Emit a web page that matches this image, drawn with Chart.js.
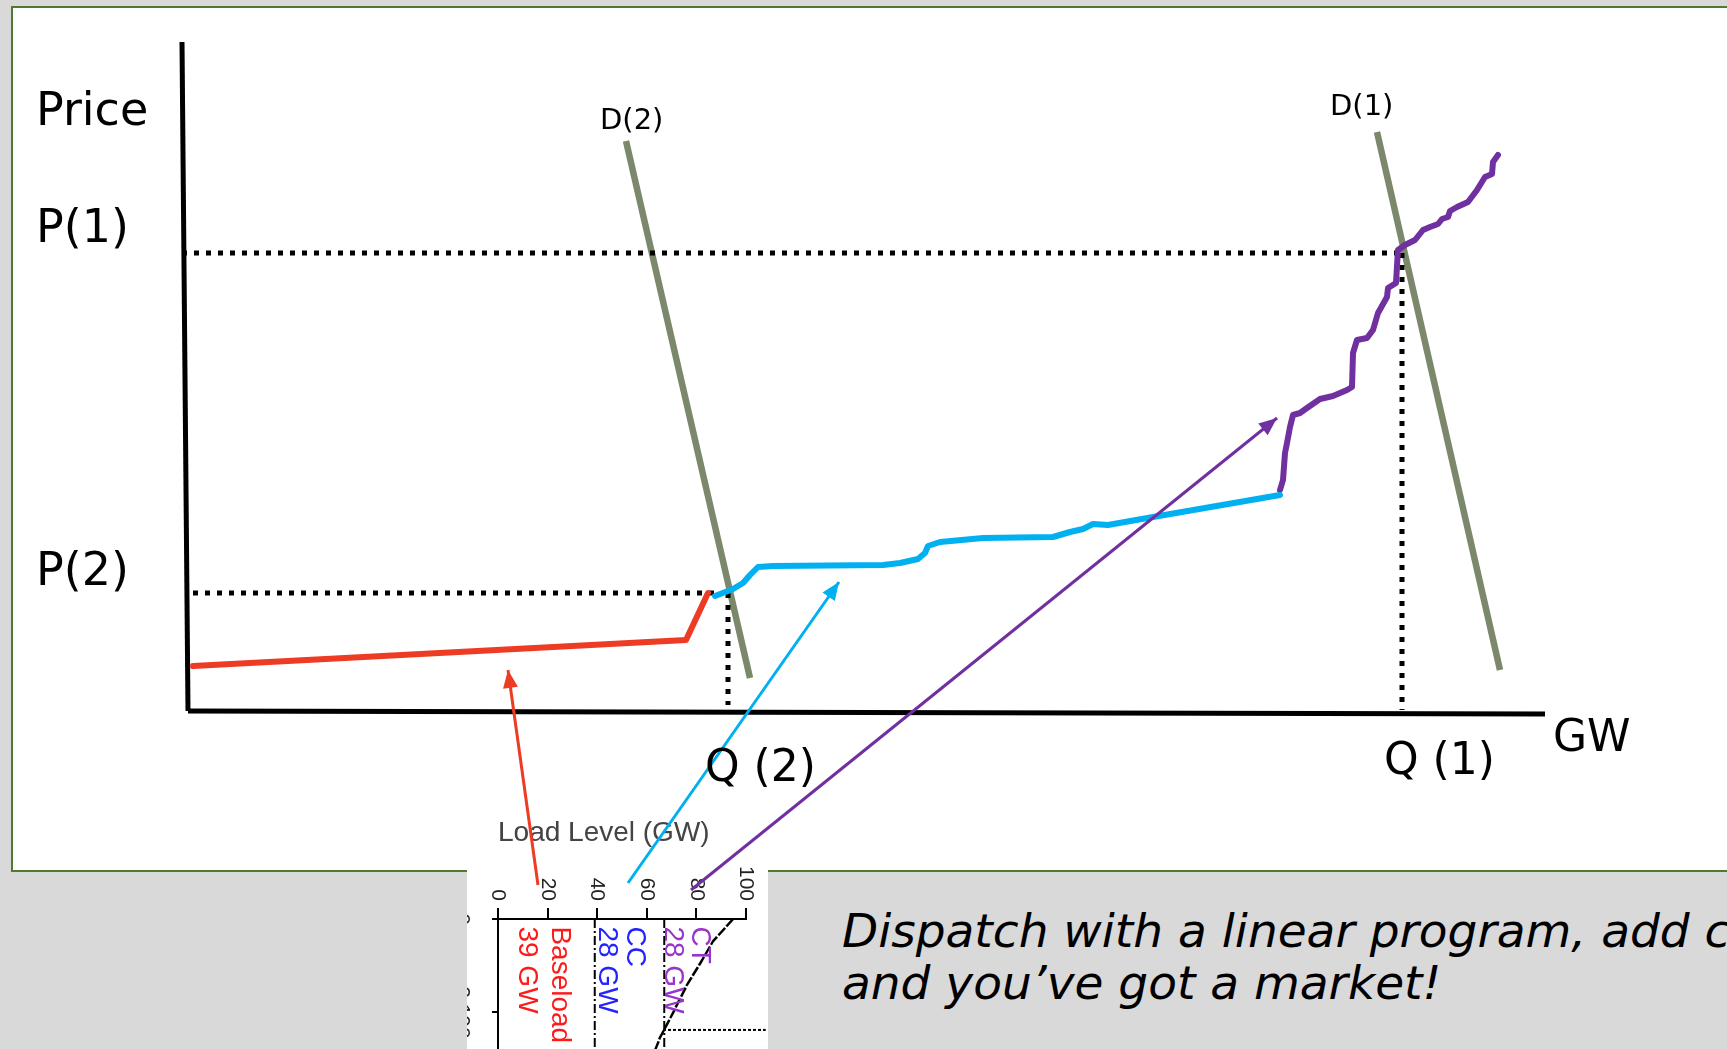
<!DOCTYPE html>
<html>
<head>
<meta charset="utf-8">
<title>Dispatch supply curve</title>
<script src="https://cdn.jsdelivr.net/npm/chart.js@4.4.1/dist/chart.umd.min.js"></script>
<style>
  html, body { margin: 0; padding: 0; }
  body { width: 1727px; height: 1049px; overflow: hidden; background: #d9d9d9; position: relative; }
  #slide-box { position: absolute; left: 11px; top: 6px; width: 1760px; height: 862px; background: #fff; border: 2px solid #4f7a30; }
  #inset-clip { position: absolute; left: 467px; top: 807px; width: 301px; height: 242px; overflow: hidden; background: #fff; }
  #inset-rot { position: absolute; left: 0; top: 0; width: 530px; height: 330px; transform-origin: 0 0; transform: translate(301px, 0) rotate(90deg); filter: blur(0.4px); }
  #caption { position: absolute; left: 842px; top: 905px; font: italic 47px "DejaVu Sans", sans-serif; line-height: 52px; white-space: nowrap; color: #000; }
  #main { position: absolute; left: 0; top: 0; }
</style>
</head>
<body>
<div id="slide-box"></div>
<div id="caption">Dispatch with a linear program, add c<br>and you’ve got a market!</div>
<div id="inset-clip"><div id="inset-rot"><canvas id="inset" width="530" height="330"></canvas></div></div>
<canvas id="main" width="1727" height="1049"></canvas>
<script>
// ---- main sketch: x = quantity (GW), y = price, origin at the axes corner ----
const baseloadX = [0.5, 49.8, 52.0];
const baseloadY = [4.5, 7.1, 11.8];

const ccX = [52.7, 54.5, 55.5, 56.2, 57.0, 58.5, 69.5, 71.2, 73.0, 73.7, 74.0, 75.2, 79.5, 86.5, 88.2, 89.5, 90.5, 92.0, 96.5, 109.2];
const ccY = [11.5, 12.2, 12.8, 13.6, 14.4, 14.5, 14.6, 14.8, 15.2, 15.8, 16.5, 16.9, 17.3, 17.4, 17.9, 18.2, 18.7, 18.6, 19.4, 21.6];

const ctX = [109.2, 109.5, 109.7, 109.9, 110.2, 110.5, 111.2, 111.9, 113.2, 114.5, 115.9, 116.4, 116.5, 116.9, 117.9, 118.5, 119.0, 119.9, 120.0, 120.8, 120.9, 121.0, 121.7, 122.7, 123.5, 124.2, 125.0, 125.4, 126.0, 126.2, 126.9, 128.0, 128.9, 129.7, 130.4, 130.5, 131.0];
const ctY = [22.1, 23.1, 25.8, 26.8, 28.4, 29.6, 29.8, 30.3, 31.2, 31.5, 32.1, 32.4, 35.8, 37.1, 37.3, 38.1, 39.8, 41.4, 42.3, 42.8, 44.5, 46.1, 46.6, 47.1, 48.1, 48.4, 48.7, 49.2, 49.4, 50.0, 50.4, 50.9, 52.1, 53.4, 53.7, 54.9, 55.6];

const demand2X = [43.8, 56.2];
const demand2Y = [57.0, 3.3];
const demand1X = [118.9, 131.2];
const demand1Y = [57.9, 4.1];

const priceLabels = ['P(1)', 'P(2)'];
const priceLevels = [45.8, 11.8];
const quantityLabels = ['Q (1)', 'Q (2)'];
const quantityLevels = [121.4, 54.0];

const axisYX = [-0.6, 0];
const axisYY = [66.9, 0];
const axisXX = [0, 135.7];
const axisXY = [0, -0.3];

// arrows from the inset picture to the curve segments: [tail, head]
const arrowRedX = [35.0, 32.0];
const arrowRedY = [-17.4, 4.1];
const arrowBlueX = [44.0, 65.1];
const arrowBlueY = [-17.2, 12.9];
const arrowPurpleX = [50.3, 108.9];
const arrowPurpleY = [-17.9, 29.3];

// ---- inset: load duration curve (hours vs GW) ----
const loadHours = [0, 522, 1043, 1543, 2196, 2783, 3500];
const loadLevel = [94.8, 86.7, 81.5, 76.2, 70.6, 65.3, 60.5];
const tierBounds = [39, 67];
const tierNames = ['Baseload', '39 GW', 'CC', '28 GW', 'CT', '28 GW'];
const tierNameLevels = [25.0, 11.7, 55.2, 44.0, 81.5, 70.6];
const tierNameColors = ['#ff1a1a', '#ff1a1a', '#2323ff', '#2323ff', '#9933cc', '#9933cc'];
const markHours = 2600;
const markLevels = [66.5, 108];

const zip = (xs, ys) => xs.map((v, i) => ({ x: v, y: ys[i] }));

function line(xs, ys, color, width, extra) {
  return Object.assign({
    data: zip(xs, ys),
    showLine: true,
    borderColor: color,
    backgroundColor: color,
    borderWidth: width,
    pointRadius: 0,
    pointHoverRadius: 0,
    fill: false,
    tension: 0,
    borderJoinStyle: 'round',
    borderCapStyle: 'round'
  }, extra || {});
}

const dotted = { borderDash: [5, 7], borderCapStyle: 'butt', borderJoinStyle: 'miter', order: 2 };

const datasets = [
  line(axisYX, axisYY, '#000', 5, { order: 4, borderCapStyle: 'butt' }),
  line(axisXX, axisXY, '#000', 5, { order: 4, borderCapStyle: 'butt' }),
  line(demand2X, demand2Y, '#7b886b', 6.5, { order: 3, borderCapStyle: 'butt' }),
  line(demand1X, demand1Y, '#7b886b', 6.5, { order: 3, borderCapStyle: 'butt' }),
  line([axisYX[0], quantityLevels[0]], [priceLevels[0], priceLevels[0]], '#000', 5, dotted),
  line([quantityLevels[0], quantityLevels[0]], [priceLevels[0], 0.1], '#000', 5, dotted),
  line([0.5, quantityLevels[1] - 1], [priceLevels[1], priceLevels[1]], '#000', 5, dotted),
  line([quantityLevels[1], quantityLevels[1]], [priceLevels[1], 0.6], '#000', 5, dotted),
  line(baseloadX, baseloadY, '#ee3b24', 6, { order: 1 }),
  line(ccX, ccY, '#00b0f0', 6, { order: 1 }),
  line(ctX, ctY, '#7030a0', 6, { order: 1 }),
  line(arrowRedX, arrowRedY, '#ee3b24', 3, { order: 0, arrow: true, borderCapStyle: 'butt' }),
  line(arrowBlueX, arrowBlueY, '#00b0f0', 3, { order: 0, arrow: true, borderCapStyle: 'butt' }),
  line(arrowPurpleX, arrowPurpleY, '#7030a0', 3, { order: 0, arrow: true, borderCapStyle: 'butt' })
];

// text placed by data position
const bigFont = '46px "DejaVu Sans"';
const midFont = '44px "DejaVu Sans"';
const smallFont = '29px "DejaVu Sans"';
const annotations = [
  { text: 'Price', x: -15.2, y: 59.8, font: bigFont },
  { text: priceLabels[0], x: -15.2, y: priceLevels[0] + 2.3, font: bigFont },
  { text: priceLabels[1], x: -15.2, y: priceLevels[1] + 2.0, font: bigFont },
  { text: quantityLabels[0], x: quantityLevels[0] - 1.8, y: -5.2, font: midFont },
  { text: quantityLabels[1], x: quantityLevels[1] - 2.3, y: -5.9, font: midFont },
  { text: 'GW', x: 136.5, y: -2.9, font: midFont },
  { text: 'D(2)', x: demand2X[0] - 2.6, y: demand2Y[0] + 2.0, font: smallFont },
  { text: 'D(1)', x: demand1X[0] - 4.7, y: demand1Y[0] + 2.5, font: smallFont }
];

const sketchLabels = {
  id: 'sketchLabels',
  afterDatasetsDraw(chart) {
    const c = chart.ctx;
    const { x, y } = chart.scales;
    c.save();
    c.fillStyle = '#000';
    c.textAlign = 'left';
    c.textBaseline = 'middle';
    annotations.forEach((a) => {
      c.font = a.font;
      c.fillText(a.text, x.getPixelForValue(a.x), y.getPixelForValue(a.y));
    });
    c.restore();
  }
};

const arrowHeads = {
  id: 'arrowHeads',
  afterDatasetsDraw(chart) {
    const c = chart.ctx;
    chart.data.datasets.forEach((ds, i) => {
      if (!ds.arrow) return;
      const pts = chart.getDatasetMeta(i).data;
      const a = pts[pts.length - 2];
      const b = pts[pts.length - 1];
      const ang = Math.atan2(b.y - a.y, b.x - a.x);
      c.save();
      c.translate(b.x, b.y);
      c.rotate(ang);
      c.beginPath();
      c.moveTo(0, 0);
      c.lineTo(-18, -7.5);
      c.lineTo(-18, 7.5);
      c.closePath();
      c.fillStyle = ds.borderColor;
      c.fill();
      c.restore();
    });
  }
};

new Chart(document.getElementById('main'), {
  type: 'scatter',
  data: { datasets: datasets },
  options: {
    responsive: false,
    animation: false,
    events: [],
    layout: { padding: 0 },
    plugins: { legend: { display: false }, tooltip: { enabled: false } },
    scales: {
      x: { type: 'linear', min: -18.8, max: 153.9, display: false },
      y: { type: 'linear', min: -33.8, max: 71.1, display: false }
    }
  },
  plugins: [arrowHeads, sketchLabels]
});

// inset is drawn upright, then turned a quarter turn by CSS
const insetFont = '"Liberation Sans", Arial, sans-serif';

const insetLabels = {
  id: 'insetLabels',
  afterDatasetsDraw(chart) {
    const c = chart.ctx;
    const { x, y } = chart.scales;
    c.save();
    c.textAlign = 'left';
    c.textBaseline = 'middle';
    c.font = '28px ' + insetFont;
    tierNames.forEach((t, i) => {
      c.fillStyle = tierNameColors[i];
      c.fillText(t, x.getPixelForValue(174), y.getPixelForValue(tierNameLevels[i]));
    });
    c.restore();
  }
};

function insetLine(xs, ys, width, dash, extra) {
  return Object.assign({
    data: zip(xs, ys),
    showLine: true,
    borderColor: '#000',
    borderWidth: width,
    borderDash: dash,
    pointRadius: 0,
    fill: false,
    tension: 0
  }, extra || {});
}

new Chart(document.getElementById('inset'), {
  type: 'scatter',
  data: {
    datasets: [
      insetLine(loadHours, loadLevel, 2.5, [10, 2]),
      insetLine([0, 8760], [tierBounds[0], tierBounds[0]], 2, [9, 3, 2, 3]),
      insetLine([0, 8760], [tierBounds[1], tierBounds[1]], 2, [9, 3, 2, 3]),
      insetLine([markHours, markHours], markLevels, 2, [3, 2], { clip: false })
    ]
  },
  options: {
    responsive: false,
    animation: false,
    events: [],
    layout: { padding: { left: 8, top: 22, right: 15, bottom: 0 } },
    plugins: { legend: { display: false }, tooltip: { enabled: false } },
    scales: {
      x: {
        type: 'linear', min: 0, max: 8760,
        afterFit(s) { s.height = 60; },
        ticks: { stepSize: 2000, padding: 18, color: '#222', font: { size: 21, family: insetFont } },
        grid: { drawOnChartArea: false, tickLength: 6, color: '#000', lineWidth: 2 },
        border: { color: '#000', width: 2 }
      },
      y: {
        type: 'linear', min: 0, max: 100,
        afterFit(s) { s.width = 104; },
        ticks: {
          stepSize: 10, padding: 7, color: '#222',
          font: { size: 21, family: insetFont },
          callback: (v) => (v % 20 === 0 ? v : '')
        },
        grid: { drawOnChartArea: false, tickLength: 11, color: '#000', lineWidth: 2 },
        border: { color: '#000', width: 2 },
        title: { display: true, align: 'start', text: 'Load Level (GW)', color: '#444', padding: { top: 1, bottom: 0 }, font: { size: 28, family: insetFont } }
      }
    }
  },
  plugins: [insetLabels]
});
</script>
</body>
</html>
